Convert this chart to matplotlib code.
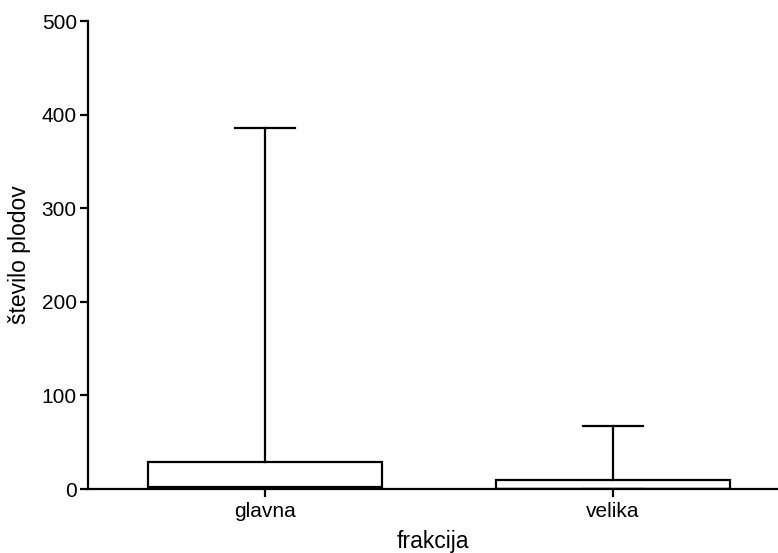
import matplotlib
matplotlib.use('Agg')
import matplotlib.pyplot as plt

plt.rcParams['font.family'] = ['Liberation Sans', 'DejaVu Sans']

# box statistics per fraction (min is 0 for both)
categories = ['glavna', 'velika']
whislo = [0, 0]
q1 = [0, 0]
med = [2, 0]
q3 = [29, 10]
whishi = [386, 67]

stats = []
for i, name in enumerate(categories):
    stats.append({
        'label': name,
        'whislo': whislo[i],
        'q1': q1[i],
        'med': med[i],
        'q3': q3[i],
        'whishi': whishi[i],
        'fliers': [],
    })

fig = plt.figure(figsize=(7.78, 5.53), dpi=100)
ax = fig.add_axes([0.113, 0.1157, 0.887, 0.8463])

lw = 1.6
ax.bxp(stats, positions=[1, 2], widths=0.672, showfliers=False,
       patch_artist=True,
       boxprops=dict(facecolor='white', edgecolor='black', linewidth=lw),
       medianprops=dict(color='black', linewidth=lw),
       whiskerprops=dict(color='black', linewidth=lw),
       capprops=dict(color='black', linewidth=lw),
       capwidths=0.17)

ax.set_xlim(0.491, 2.474)
ax.set_ylim(0, 500)
ax.set_yticks([0, 100, 200, 300, 400, 500])

ax.spines['top'].set_visible(False)
ax.spines['right'].set_visible(False)
ax.spines['left'].set_linewidth(lw)
ax.spines['bottom'].set_linewidth(lw)
ax.tick_params(axis='both', width=lw, length=6, labelsize=15, direction='out')
ax.tick_params(axis='y', pad=2)

ax.set_xlabel('frakcija', fontsize=16.5, labelpad=6)
ax.set_ylabel('število plodov', fontsize=16.5, labelpad=8)

plt.savefig('out.png', dpi=100)
plt.close()
